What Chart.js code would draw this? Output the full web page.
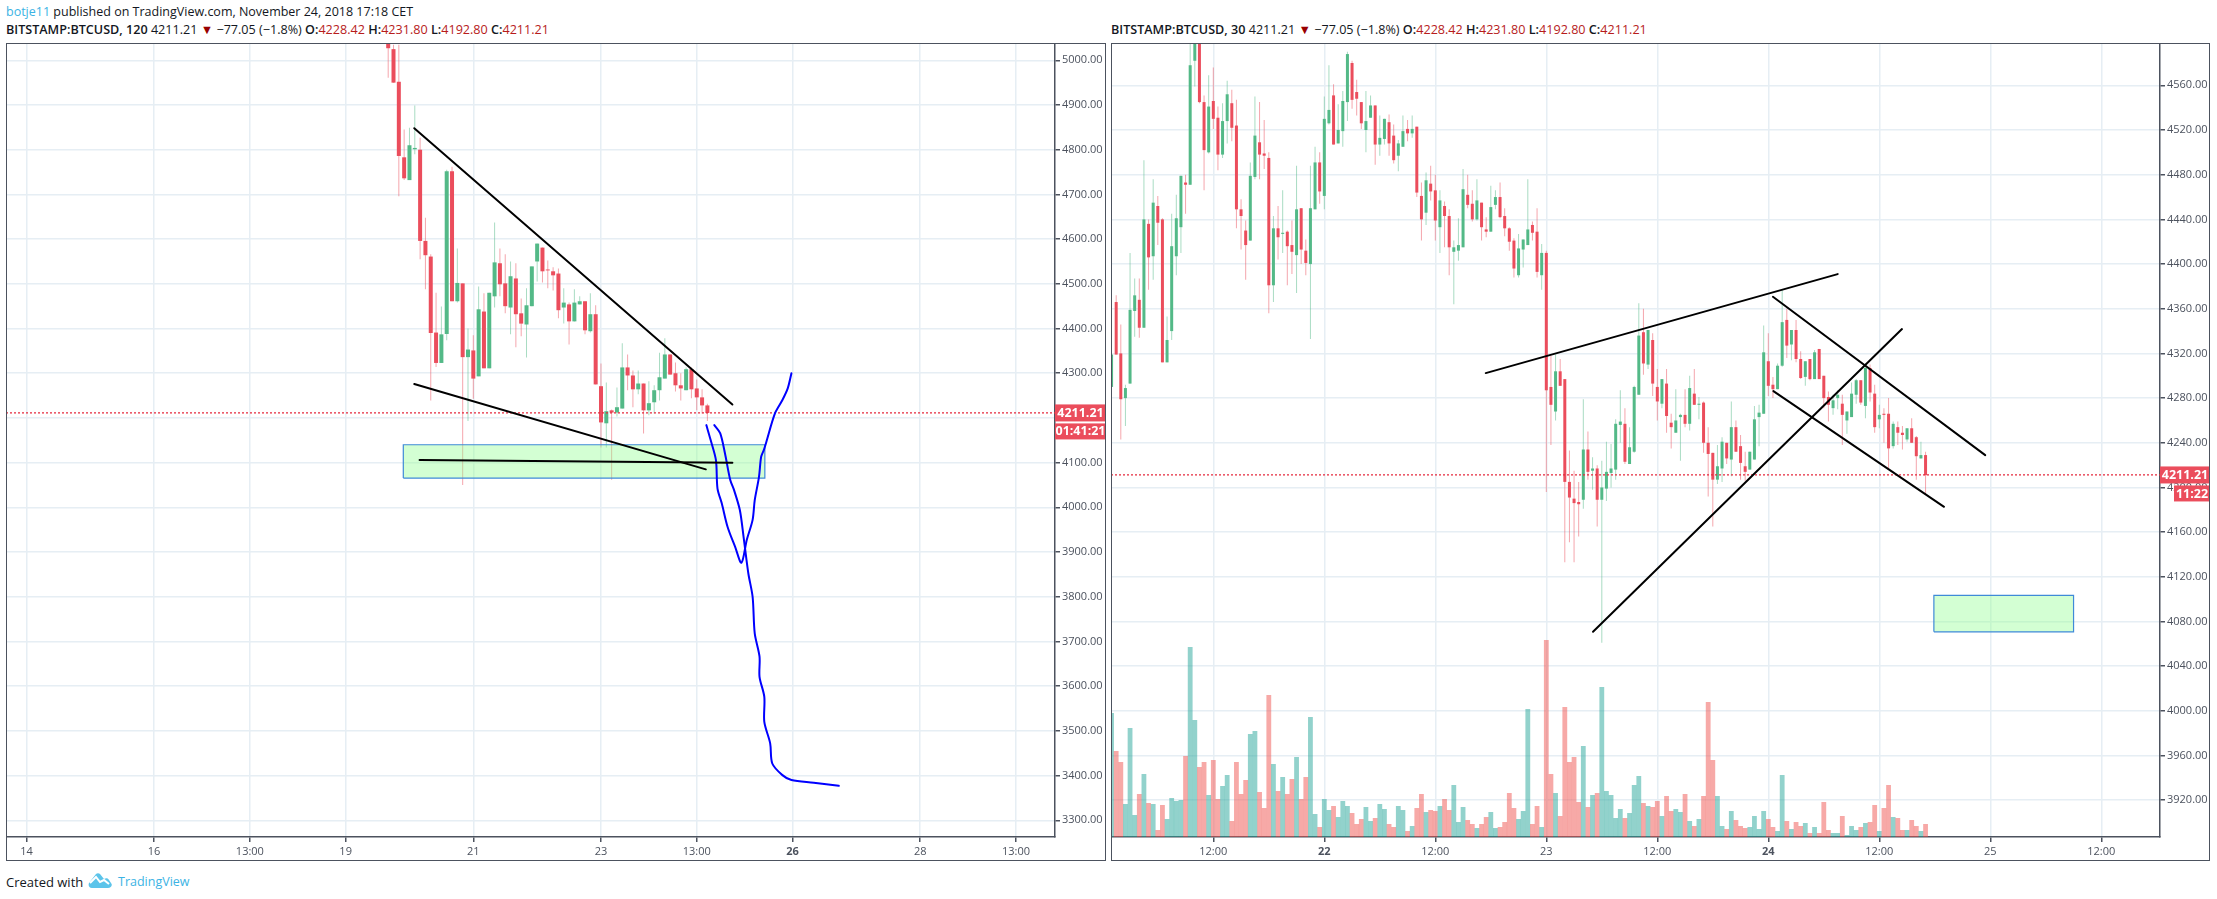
<!DOCTYPE html>
<html>
<head>
<meta charset="utf-8">
<title>BTCUSD</title>
<script src="https://cdn.jsdelivr.net/npm/chart.js@4/dist/chart.umd.min.js"></script>
<style>
    html, body { margin: 0; padding: 0; background: #fff; overflow: hidden; }
    body { width: 2217px; height: 899px; position: relative; font-family: "Open Sans", sans-serif; color: #131722; }
    canvas { position: absolute; top: 43px; height: 819px; }
    .frame { position: absolute; top: 43px; height: 818px; border: 1.5px solid #4c525e; box-sizing: border-box; pointer-events: none; }
    .line { position: absolute; font-size: 12.5px; white-space: nowrap; line-height: 16px; }
    .line b { font-weight: 600; }
    .line i { font-style: normal; color: #b71c1c; }
    .blue { color: #3bb3e4; }
    .tri { color: #990000; }
</style>
</head>
<body>
<div class="line" style="left:6px;top:4px"><span class="blue">botje11</span> published on TradingView.com, November 24, 2018 17:18 CET</div>
<div class="line" style="left:6px;top:22px;font-size:12.6px"><b>BITSTAMP:BTCUSD, 120</b> 4211.21 <span class="tri">▼</span> −77.05 (−1.8%) <b>O:</b><i>4228.42</i> <b>H:</b><i>4231.80</i> <b>L:</b><i>4192.80</i> <b>C:</b><i>4211.21</i></div>
<div class="line" style="left:1111px;top:22px;font-size:12.6px"><b>BITSTAMP:BTCUSD, 30</b> 4211.21 <span class="tri">▼</span> −77.05 (−1.8%) <b>O:</b><i>4228.42</i> <b>H:</b><i>4231.80</i> <b>L:</b><i>4192.80</i> <b>C:</b><i>4211.21</i></div>
<canvas id="graficoEsq" width="1100" height="819" style="left:6px;width:1100px"></canvas>
<canvas id="graficoDir" width="1099" height="819" style="left:1111px;width:1099px"></canvas>
<div class="frame" style="left:6px;width:1100px"></div>
<div class="frame" style="left:1111px;width:1099px"></div>
<div class="line" style="left:6px;top:874px;font-size:13px">Created with</div>
<svg style="position:absolute;left:88px;top:872px" width="24" height="17" viewBox="0 0 24 17"><path d="M4 16 C1 16 0 13 1 11 L8 2 C9 1 11 1 12 2 L16 7 C18 6 20 6 21 8 L23 11 C25 13 23 16 20 16 Z" fill="#5cc4ea"/><path d="M2 11 L8 5 L12 10 L16 8 L21 12" fill="none" stroke="#fff" stroke-width="2"/></svg>
<div class="line blue" style="left:118px;top:874px;font-size:12.5px">TradingView</div>

<script>
// 120 minutos, velas 68 a 128
var esqInicio = 68;
var esqOpen = [5070,5025,4952,4783,4732,4801,4800,4596,4561,4391,4323,4388,4752,4461,4501,4336,4351,4293,4438,4311,4472,4546,4501,4447,4512,4434,4409,4450,4550,4581,4532,4528,4523,4447,4454,4416,4454,4461,4394,4432,4271,4188,4217,4212,4221,4313,4295,4264,4277,4217,4235,4262,4288,4342,4300,4273,4262,4309,4266,4246,4228];
var esqClose = [5027,4950,4786,4736,4810,4804,4596,4564,4390,4323,4387,4752,4461,4502,4336,4353,4288,4443,4311,4480,4548,4499,4450,4517,4432,4411,4452,4539,4590,4528,4530,4519,4441,4458,4416,4458,4461,4396,4432,4275,4190,4215,4212,4224,4313,4295,4264,4277,4217,4233,4262,4291,4342,4297,4273,4266,4309,4264,4246,4228,4211];
var esqHigh = [5080,5035,5035,4845,4849,4899,4827,4648,4566,4480,4449,4755,4762,4579,4501,4400,4385,4494,4479,4480,4637,4579,4566,4550,4546,4467,4490,4539,4590,4581,4552,4537,4534,4490,4458,4488,4472,4461,4479,4452,4322,4279,4219,4268,4367,4342,4306,4306,4277,4282,4273,4346,4378,4342,4324,4300,4313,4313,4286,4264,4232];
var esqLow = [4961,4950,4696,4732,4732,4790,4555,4488,4239,4314,4323,4374,4461,4458,4050,4193,4243,4293,4311,4311,4447,4472,4434,4387,4358,4383,4335,4450,4505,4503,4490,4485,4423,4411,4364,4416,4454,4387,4391,4275,4134,4134,4062,4203,4221,4262,4224,4253,4165,4206,4210,4239,4288,4297,4259,4239,4262,4244,4217,4210,4193];

// 30 minutos, velas 2 a 178
var dirInicio = 2;
var dirOpen = [4290,4366,4320,4280,4293,4358,4368,4343,4436,4407,4452,4440,4312,4340,4407,4433,4473,4471,4582,4603,4545,4500,4546,4531,4498,4528,4544,4524,4449,4430,4421,4478,4509,4499,4495,4381,4432,4427,4429,4417,4408,4450,4412,4400,4449,4491,4461,4526,4551,4508,4519,4545,4580,4554,4545,4520,4531,4542,4507,4512,4527,4515,4497,4505,4521,4517,4523,4461,4446,4472,4466,4433,4452,4443,4411,4412,4415,4462,4454,4440,4455,4431,4429,4453,4460,4443,4432,4421,4390,4413,4417,4435,4429,4390,4410,4290,4268,4304,4297,4205,4190,4187,4189,4234,4215,4217,4189,4199,4213,4216,4256,4257,4221,4232,4283,4339,4310,4332,4290,4275,4293,4258,4249,4263,4265,4257,4284,4274,4276,4240,4231,4207,4217,4240,4225,4254,4237,4219,4216,4225,4263,4266,4313,4292,4288,4309,4350,4328,4341,4315,4299,4315,4297,4324,4300,4281,4271,4280,4275,4260,4263,4283,4296,4273,4307,4284,4261,4266,4266,4237,4254,4249,4243,4253,4245,4226,4229];
var dirClose = [4319,4319,4279,4289,4359,4372,4343,4440,4406,4455,4437,4312,4332,4416,4441,4479,4471,4578,4600,4545,4502,4541,4530,4498,4528,4552,4522,4449,4443,4417,4479,4515,4498,4497,4381,4432,4424,4428,4416,4411,4449,4413,4401,4450,4491,4465,4530,4538,4507,4520,4546,4588,4547,4548,4526,4528,4542,4507,4513,4530,4508,4493,4508,4519,4517,4521,4464,4440,4475,4465,4439,4457,4443,4415,4415,4417,4467,4453,4440,4457,4433,4429,4451,4460,4442,4432,4420,4396,4414,4422,4431,4428,4393,4410,4287,4274,4304,4291,4205,4191,4186,4185,4234,4214,4217,4189,4200,4214,4217,4257,4259,4223,4236,4290,4336,4311,4341,4293,4277,4297,4264,4254,4260,4265,4257,4289,4274,4275,4240,4230,4207,4219,4241,4226,4254,4232,4222,4214,4232,4261,4267,4321,4291,4288,4309,4348,4327,4341,4315,4298,4313,4297,4321,4297,4280,4274,4278,4283,4265,4268,4284,4296,4276,4307,4285,4254,4265,4265,4235,4257,4249,4247,4253,4240,4228,4229,4211];
var dirHigh = [4319,4372,4346,4292,4410,4387,4387,4493,4440,4476,4461,4441,4353,4445,4462,4479,4480,4598,4605,4606,4551,4569,4576,4541,4544,4564,4556,4547,4458,4439,4491,4550,4545,4529,4500,4443,4452,4466,4430,4439,4488,4450,4422,4488,4505,4500,4550,4578,4561,4543,4555,4590,4582,4565,4545,4555,4551,4542,4533,4530,4534,4525,4511,4533,4529,4533,4523,4473,4482,4488,4480,4466,4456,4449,4421,4441,4485,4480,4466,4476,4455,4442,4470,4466,4473,4450,4433,4423,4427,4422,4476,4438,4450,4418,4412,4318,4319,4315,4297,4233,4215,4205,4279,4250,4227,4220,4224,4241,4239,4261,4287,4271,4254,4291,4365,4360,4341,4338,4306,4297,4306,4266,4288,4266,4288,4300,4306,4281,4277,4254,4231,4238,4245,4240,4277,4260,4247,4232,4232,4273,4274,4345,4338,4299,4311,4377,4360,4341,4350,4322,4313,4315,4323,4324,4300,4286,4283,4287,4283,4268,4294,4297,4296,4311,4310,4292,4274,4271,4280,4259,4259,4255,4253,4262,4246,4241,4232];
var dirLow = [4290,4319,4243,4255,4293,4335,4334,4343,4377,4386,4417,4312,4312,4332,4390,4410,4445,4471,4559,4544,4466,4499,4521,4484,4495,4508,4510,4432,4413,4386,4421,4476,4476,4485,4356,4366,4404,4410,4381,4391,4374,4400,4390,4333,4449,4454,4449,4525,4507,4508,4505,4528,4539,4533,4521,4500,4531,4489,4497,4507,4497,4490,4483,4505,4510,4513,4460,4421,4435,4457,4421,4410,4415,4390,4364,4403,4415,4450,4438,4439,4421,4424,4429,4449,4441,4425,4412,4388,4388,4397,4417,4421,4388,4377,4196,4238,4260,4291,4133,4151,4133,4156,4181,4207,4198,4165,4061,4188,4200,4207,4240,4221,4221,4231,4283,4301,4306,4282,4260,4271,4249,4235,4249,4224,4254,4251,4274,4261,4231,4192,4165,4203,4205,4221,4210,4232,4207,4206,4216,4225,4237,4266,4282,4280,4288,4308,4316,4314,4312,4297,4291,4296,4297,4297,4271,4259,4265,4270,4238,4248,4263,4275,4274,4262,4277,4249,4253,4240,4216,4235,4238,4234,4241,4240,4207,4226,4194];
var dirVolume = [124,86,75,33,109,22,43,63,34,33,7,32,18,39,36,37,81,190,117,70,75,42,77,38,51,62,16,75,43,57,103,106,45,29,142,73,46,60,43,58,80,38,60,120,23,10,38,27,31,20,36,31,24,13,18,30,16,19,33,28,13,10,31,27,6,11,29,43,25,27,26,31,38,27,52,15,30,17,13,9,13,20,25,9,10,15,44,29,18,26,128,13,31,10,197,63,44,21,130,75,80,35,91,30,42,44,150,46,42,19,28,19,24,52,61,34,31,30,36,21,41,26,28,25,43,16,11,18,41,135,77,41,11,8,26,17,11,9,10,21,8,26,18,10,6,62,16,8,15,11,14,4,10,4,35,7,4,4,21,2,11,7,10,14,15,32,6,29,52,20,19,7,7,17,11,6,13];

// eixos
var esqPrecos = [3300,3400,3500,3600,3700,3800,3900,4000,4100,4200,4300,4400,4500,4600,4700,4800,4900,5000];
var dirPrecos = [3920,3960,4000,4040,4080,4120,4160,4200,4240,4280,4320,4360,4400,4440,4480,4520,4560];
var esqTempoPos = [0,24,42,60,84,108,126,144,168,186];
var esqTempoTxt = ['14','16','13:00','19','21','23','13:00','26','28','13:00'];
var dirTempoPos = [24,48,72,96,120,144,168,192,216];
var dirTempoTxt = ['12:00','22','12:00','23','12:00','24','12:00','25','12:00'];
var esqNegrito = ['26'];
var dirNegrito = ['22','24'];
var ultimoPreco = 4211.21;

// desenhos: [vela, preço] nas pontas
var esqLinhas = [
    [[72.9,4848],[132.7,4230]],
    [[72.9,4276],[127.7,4085]],
    [[73.9,4106],[132.7,4100]]
];
var dirLinhas = [
    [[82.9,4302.4],[159,4391]],
    [[145,4370.7],[190.9,4229]],
    [[145.1,4286.3],[182,4182.7]],
    [[106.1,4070.8],[172.9,4341.8]]
];
var esqCaixa = [70.84,138.8,4065.5,4140];
var dirCaixa = [179.8,210,4070.8,4103.4];
var esqCurvaA = [[127.8,4184],[128.6,4151],[129.6,4106],[129.9,4042],[130.7,4009],[131.8,3956],[133.2,3912],[134.4,3876],[135.4,3927],[136.5,3972],[136.9,4016],[137.7,4068],[138.1,4113],[138.6,4128],[139,4143],[140.7,4210],[142.1,4240],[143.1,4266],[143.8,4300]];
var esqCurvaB = [[129.3,4184],[130.4,4166],[131.3,4121],[132.3,4061],[133,4039],[134.1,3994],[134.8,3934],[135.7,3852],[136.5,3800],[136.9,3718],[137.8,3666],[137.8,3621],[138.7,3576],[138.7,3520],[139.8,3472],[140.2,3427],[142.1,3401],[143.8,3390],[148,3384],[152.7,3377]];

var VERDE = '#53b987', VERMELHO = '#eb4d5c';
var corEixo = '#4c525e', corGrade = '#e6eef4';

function pontos(lista) {
    return lista.map(function(p) { return { x: p[0], y: p[1] }; });
}

function caixa(c) {
    return [{x:c[0],y:c[2]},{x:c[1],y:c[2]},{x:c[1],y:c[3]},{x:c[0],y:c[3]},{x:c[0],y:c[2]}];
}

function conjuntosVelas(inicio, abre, fecha, alto, baixo, largura) {
    var corpos = [], pavios = [], coresC = [], coresP = [];
    abre.forEach(function(o, k) {
        var sobe = fecha[k] >= o;
        corpos.push({ x: inicio + k, y: [o, fecha[k]] });
        pavios.push({ x: inicio + k, y: [baixo[k], alto[k]] });
        coresC.push(sobe ? VERDE : VERMELHO);
        coresP.push(sobe ? 'rgba(83,185,135,0.5)' : 'rgba(235,77,92,0.5)');
    });
    return [
        { data: corpos, backgroundColor: coresC, barThickness: largura, grouped: false, order: 4, inflateAmount: 0 },
        { data: pavios, backgroundColor: coresP, barThickness: 1, grouped: false, order: 5, inflateAmount: 0 }
    ];
}

function linhaDataset(lista, cor, larg, tensao) {
    return { type: 'line', data: pontos(lista), borderColor: cor, borderWidth: larg, pointRadius: 0, fill: false, tension: tensao || 0, order: 1, borderCapStyle: 'round' };
}

function montar(id, cfg) {
    var sets = conjuntosVelas(cfg.inicio, cfg.abre, cfg.fecha, cfg.alto, cfg.baixo, cfg.largura);
    sets.push({ type: 'line', data: [{x:cfg.xMin,y:ultimoPreco},{x:cfg.xMax,y:ultimoPreco}], borderColor: '#e5293c', borderWidth: 1.2, borderDash: [2,2], pointRadius: 0, fill: false, order: 3 });
    sets.push({ type: 'line', data: caixa(cfg.caixa), borderColor: '#3f8ad8', borderWidth: 1.2, backgroundColor: 'rgba(144,255,144,0.4)', fill: 'shape', pointRadius: 0, order: 2 });
    cfg.linhas.forEach(function(l) { sets.push(linhaDataset(l, '#000000', 2)); });
    (cfg.curvas || []).forEach(function(l) { sets.push(linhaDataset(l, '#0000ff', 2, 0.3)); });

    var etiqueta = {
        id: 'etiqueta',
        afterDraw: function(chart) {
            var c = chart.ctx, y = chart.scales.y.getPixelForValue(ultimoPreco);
            var esq = chart.chartArea.right, dir = chart.width;
            c.save();
            c.fillStyle = VERMELHO;
            c.fillRect(esq, y - 8.5, dir - esq, 17);
            c.fillRect(dir - cfg.larguraRelogio, y + 10.5, cfg.larguraRelogio, 16);
            c.fillStyle = '#fff';
            c.font = '700 12.5px "Open Sans"';
            c.textAlign = 'center';
            c.textBaseline = 'middle';
            c.fillText(ultimoPreco.toFixed(2), (esq + dir) / 2, y + 0.5);
            c.fillText(cfg.relogio, dir - cfg.larguraRelogio / 2, y + 19);
            c.restore();
        }
    };

    var escalas = {
        x: {
            type: 'linear', offset: false, min: cfg.xMin, max: cfg.xMax,
            afterFit: function(s) { s.height = 25; s.paddingLeft = 0; s.paddingRight = 0; },
            afterBuildTicks: function(s) { s.ticks = cfg.tempoPos.map(function(v) { return { value: v }; }); },
            grid: { offset: false, color: corGrade, lineWidth: 1.5, tickColor: corEixo, tickLength: 5 },
            border: { color: corEixo, width: 1.5 },
            ticks: {
                autoSkip: false, maxRotation: 0, padding: 3, color: corEixo,
                font: function(ctx) {
                    var t = cfg.tempoTxt[cfg.tempoPos.indexOf(ctx.tick ? ctx.tick.value : -1)];
                    return { family: '"Open Sans"', size: 11, weight: cfg.negrito.indexOf(t) >= 0 ? '700' : '400' };
                },
                callback: function(v) { return cfg.tempoTxt[cfg.tempoPos.indexOf(v)]; }
            }
        },
        y: {
            position: 'right', min: cfg.yMin, max: cfg.yMax,
            afterFit: function(s) { s.width = cfg.larguraEixo; s.paddingTop = 0; s.paddingBottom = 0; },
            afterBuildTicks: function(s) { s.ticks = cfg.precos.map(function(v) { return { value: v }; }); },
            grid: { color: corGrade, lineWidth: 1.5, tickColor: corEixo, tickLength: 5 },
            border: { color: corEixo, width: 1.5 },
            ticks: {
                padding: 2, color: corEixo, font: { family: '"Open Sans"', size: 11 },
                callback: function(v) { return v.toFixed(2); }
            }
        }
    };
    if (cfg.volume) {
        escalas.vol = { display: false, axis: 'y', min: 0, max: 794, grid: { display: false } };
        var barras = cfg.volume.map(function(v, k) { return { x: cfg.inicio + k, y: v }; });
        var cores = cfg.volume.map(function(v, k) {
            return cfg.fecha[k] >= cfg.abre[k] ? 'rgba(38,166,154,0.5)' : 'rgba(239,83,80,0.5)';
        });
        sets.push({ data: barras, yAxisID: 'vol', backgroundColor: cores, barThickness: 4.8, grouped: false, order: 6, inflateAmount: 0 });
    }

    new Chart(document.getElementById(id).getContext('2d'), {
        type: 'bar',
        data: { datasets: sets },
        options: {
            responsive: false,
            animation: false,
            events: [],
            layout: { padding: 0 },
            plugins: { legend: { display: false }, tooltip: { enabled: false } },
            scales: escalas
        },
        plugins: [etiqueta]
    });
}

montar('graficoEsq', {
    inicio: esqInicio, abre: esqOpen, fecha: esqClose, alto: esqHigh, baixo: esqLow, largura: 4,
    xMin: -3.84, xMax: 193.34, yMin: 3262.6, yMax: 5038.7, larguraEixo: 51,
    precos: esqPrecos, tempoPos: esqTempoPos, tempoTxt: esqTempoTxt, negrito: esqNegrito,
    linhas: esqLinhas, caixa: esqCaixa, curvas: [esqCurvaA, esqCurvaB],
    relogio: '01:41:21', larguraRelogio: 51
});

montar('graficoDir', {
    inicio: dirInicio, abre: dirOpen, fecha: dirClose, alto: dirHigh, baixo: dirLow, largura: 3,
    xMin: 1.88, xMax: 228.69, yMin: 3887.1, yMax: 4597.9, larguraEixo: 50,
    precos: dirPrecos, tempoPos: dirTempoPos, tempoTxt: dirTempoTxt, negrito: dirNegrito,
    linhas: dirLinhas, caixa: dirCaixa, volume: dirVolume,
    relogio: '11:22', larguraRelogio: 36
});
</script>
</body>
</html>
